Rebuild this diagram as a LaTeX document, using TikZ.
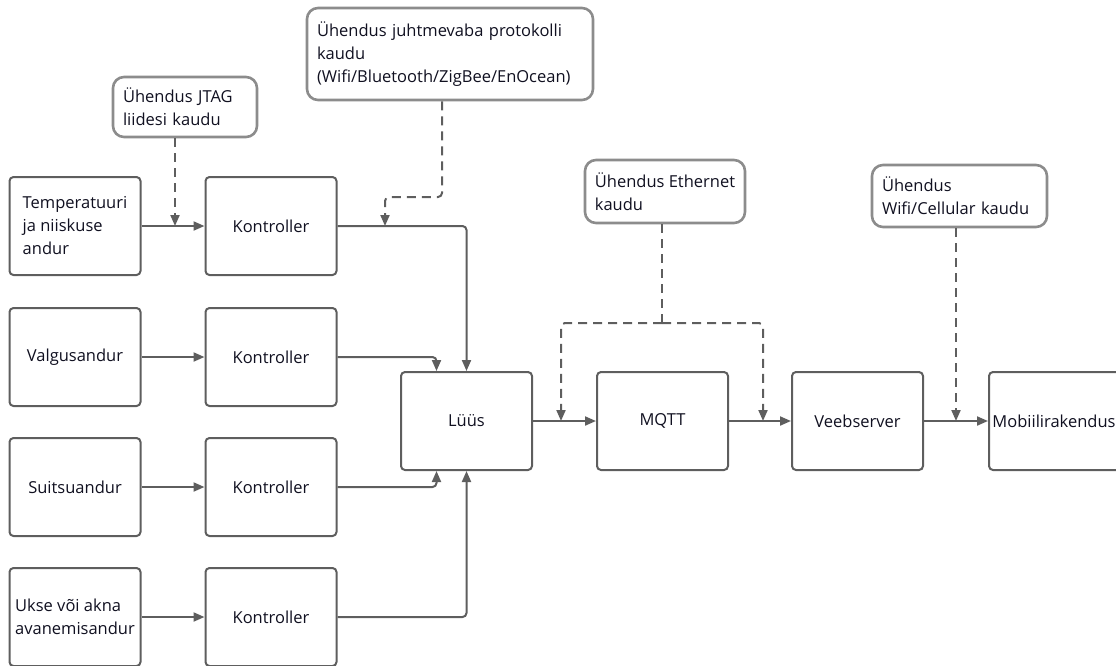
\documentclass[tikz,border=0pt]{standalone}
\usepackage{fontspec}
\setmainfont{Open Sans}
\usetikzlibrary{arrows.meta,calc}
\definecolor{ln}{HTML}{5E5E5E}
\definecolor{tx}{HTML}{101020}
\definecolor{co}{HTML}{8C8C8C}
\begin{document}
\begin{tikzpicture}[x=1pt,y=-1pt,
  font=\fontsize{16.5}{23}\selectfont, text=tx,
  box/.style={draw=ln,line width=2pt,rounded corners=4pt,minimum width=131pt,minimum height=98pt,align=left,inner sep=2pt},
  callout/.style={draw=co,line width=2.6pt,rounded corners=11pt,align=left,inner xsep=10pt,inner ysep=0pt},
  arr/.style={draw=ln,line width=2pt,-{Triangle[length=11pt,width=9pt]},rounded corners=4pt},
  dsh/.style={arr,dash pattern=on 9pt off 6pt}]
\useasboundingbox (0,0) rectangle (1116,665);
% sensors
\node[box] (s1) at (75,226) {Temperatuuri\\ja niiskuse\\andur};
\node[box] (s2) at (75,357) {Valgusandur};
\node[box] (s3) at (75,487) {Suitsuandur};
\node[box] (s4) at (75,617) {Ukse või akna\\avanemisandur};
% controllers
\node[box] (c1) at (271,226) {Kontroller};
\node[box] (c2) at (271,357) {Kontroller};
\node[box] (c3) at (271,487) {Kontroller};
\node[box] (c4) at (271,617) {Kontroller};
% main chain
\node[box] (lu) at (466.5,421) {Lüüs};
\node[box] (mq) at (662.5,421) {MQTT};
\node[box] (ve) at (857.5,421) {Veebserver};
\node[box,minimum width=136pt,anchor=west,inner xsep=1pt] (mo) at (988,421) {Mobiilirakendus\hspace*{6pt}};
% callouts
\node[callout,text width=124pt,minimum height=60pt] (jt) at (185,107) {Ühendus JTAG\\liidesi kaudu};
\node[callout,text width=266pt,minimum height=92pt] (wl) at (450,54) {Ühendus juhtmevaba protokolli\\kaudu\\(Wifi/Bluetooth/ZigBee/EnOcean)};
\node[callout,minimum width=160pt,minimum height=63pt,inner xsep=4pt] (et) at (665,191.5) {Ühendus Ethernet\\kaudu\hfill\null};
\node[callout,text width=155pt,minimum height=62pt] (wc) at (959.5,196) {Ühendus\\Wifi/Cellular kaudu};
% sensor -> controller
\draw[arr] (s1) -- (c1);
\draw[arr] (s2) -- (c2);
\draw[arr] (s3) -- (c3);
\draw[arr] (s4) -- (c4);
% controller -> gateway
\draw[arr] (c1.east) -| (lu.north);
\draw[arr] (c2.east) -| ([xshift=-30pt]lu.north);
\draw[arr] (c3.east) -| ([xshift=-30pt]lu.south);
\draw[arr] (c4.east) -| (lu.south);
% chain
\draw[arr] (lu) -- (mq);
\draw[arr] (mq) -- (ve);
\draw[arr] (ve) -- (mo);
% dashed
\coordinate (j1) at (175,226);
\draw[dsh] (jt.south -| j1) -- (j1);
\coordinate (w1) at (385,226);
\draw[dsh] (wl.south -| 442,0) -- (442,197) -| (w1);
\coordinate (e0) at (662,323);
\coordinate (e1) at (561,421);
\coordinate (e2) at (763,421);
\draw[dsh,-] (et.south -| e0) -- (e0);
\draw[dsh] (e0) -| (e1);
\draw[dsh] (e0) -| (e2);
\coordinate (m1) at (956,421);
\draw[dsh] (wc.south -| m1) -- (m1);
\end{tikzpicture}
\end{document}
